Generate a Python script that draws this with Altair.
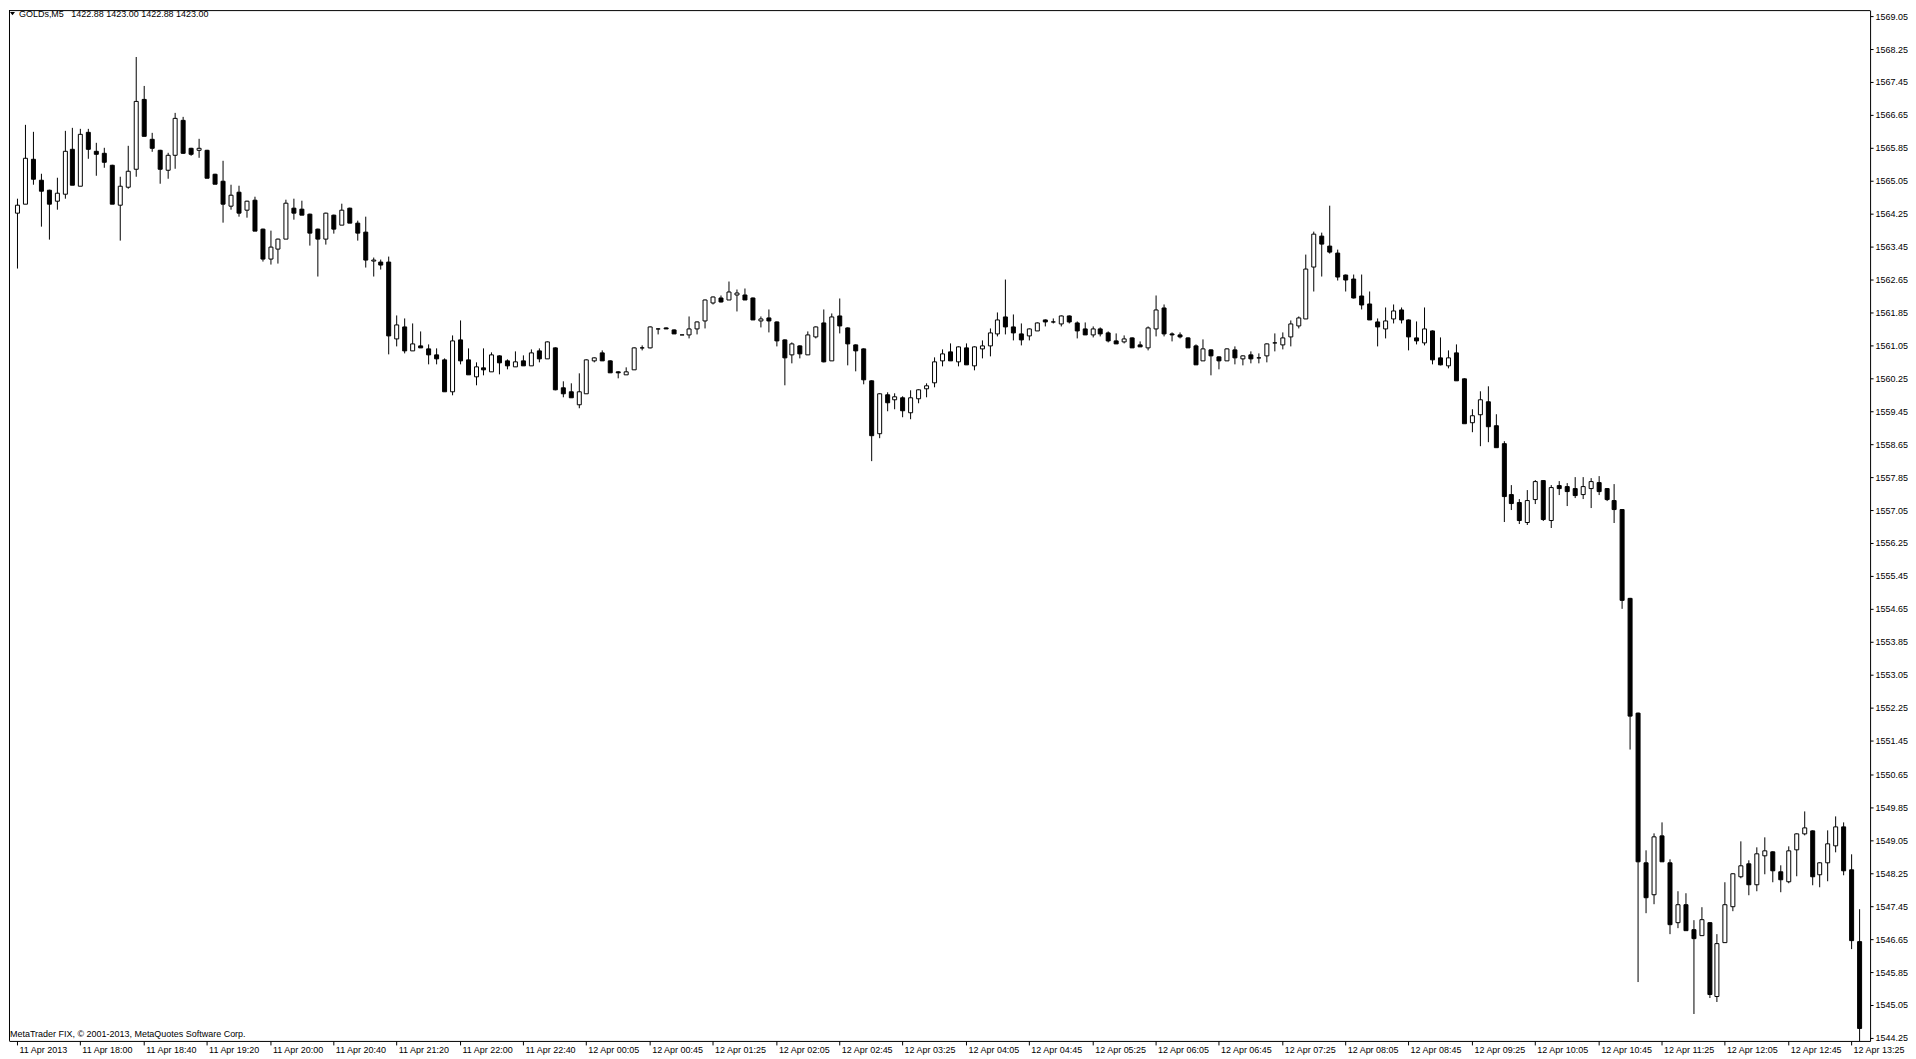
import altair as alt
import pandas as pd

# ---- M5 candles (GOLDs) ----
opens = [
    1564.28, 1564.48, 1565.58, 1565.06, 1564.82, 1564.55, 1564.74, 1565.82, 1564.92, 1566.23,
    1565.77, 1565.72, 1565.43, 1564.46, 1564.89, 1565.33, 1567.03, 1566.06, 1565.80, 1565.30,
    1565.68, 1566.52, 1565.85, 1565.79, 1565.80, 1565.21, 1565.05, 1564.43, 1564.77, 1564.34,
    1564.59, 1563.88, 1563.16, 1563.39, 1563.65, 1564.39, 1564.36, 1564.25, 1563.88, 1563.65,
    1564.22, 1563.97, 1564.39, 1564.03, 1563.81, 1563.12, 1563.08, 1563.08, 1561.23, 1561.51,
    1560.92, 1561.04, 1560.98, 1560.83, 1560.71, 1559.94, 1561.20, 1560.71, 1560.29, 1560.52,
    1560.41, 1560.80, 1560.69, 1560.54, 1560.68, 1560.56, 1560.93, 1560.74, 1561.00, 1560.03,
    1559.94, 1559.62, 1559.88, 1560.69, 1560.87, 1560.68, 1560.41, 1560.36, 1560.48, 1561.00,
    1561.01, 1561.47, 1561.48, 1561.43, 1561.32, 1561.32, 1561.46, 1561.65, 1562.10, 1562.21,
    1562.16, 1562.28, 1562.29, 1562.21, 1561.65, 1561.73, 1561.63, 1561.20, 1560.83, 1561.05,
    1560.83, 1561.27, 1561.61, 1560.68, 1561.77, 1561.49, 1561.08, 1560.98, 1560.20, 1558.91,
    1559.86, 1559.74, 1559.79, 1559.44, 1559.76, 1560.00, 1560.15, 1560.68, 1560.90, 1560.66,
    1561.00, 1560.56, 1560.97, 1561.04, 1561.35, 1561.75, 1561.50, 1561.33, 1561.29, 1561.41,
    1561.67, 1561.63, 1561.58, 1561.77, 1561.61, 1561.46, 1561.32, 1561.46, 1561.37, 1561.16,
    1561.15, 1561.24, 1561.08, 1561.01, 1561.47, 1561.96, 1561.34, 1561.32, 1561.24, 1561.04,
    1560.68, 1560.95, 1560.78, 1560.68, 1560.95, 1560.73, 1560.83, 1560.75, 1560.80, 1561.12,
    1561.07, 1561.26, 1561.53, 1561.70, 1562.96, 1563.71, 1563.46, 1563.30, 1562.76, 1562.67,
    1562.25, 1562.06, 1561.63, 1561.47, 1561.70, 1561.92, 1561.68, 1561.24, 1561.12, 1561.41,
    1560.76, 1560.56, 1560.88, 1560.24, 1559.19, 1559.39, 1559.70, 1559.11, 1558.68, 1557.44,
    1557.25, 1556.77, 1557.31, 1557.78, 1556.82, 1557.66, 1557.63, 1557.59, 1557.45, 1557.58,
    1557.73, 1557.59, 1557.30, 1557.08, 1554.93, 1552.14, 1548.51, 1547.74, 1549.16, 1548.51,
    1547.05, 1547.48, 1546.88, 1546.73, 1547.05, 1545.26, 1546.58, 1547.44, 1548.17, 1548.48,
    1547.98, 1548.68, 1548.77, 1548.28, 1548.04, 1548.83, 1549.22, 1549.29, 1548.21, 1548.51,
    1548.93, 1549.38, 1548.35, 1546.59,
]
highs = [
    1564.62, 1566.39, 1566.23, 1565.21, 1564.82, 1565.12, 1566.26, 1566.33, 1566.31, 1566.31,
    1565.97, 1565.85, 1565.43, 1565.15, 1565.89, 1568.05, 1567.35, 1566.21, 1565.80, 1565.73,
    1566.69, 1566.60, 1565.85, 1566.06, 1565.80, 1565.21, 1565.53, 1564.94, 1564.93, 1564.55,
    1564.66, 1563.88, 1563.83, 1563.63, 1564.59, 1564.62, 1564.55, 1564.25, 1563.88, 1564.27,
    1564.22, 1564.49, 1564.39, 1564.08, 1564.17, 1563.19, 1563.13, 1563.21, 1561.78, 1561.70,
    1561.58, 1561.39, 1561.08, 1560.98, 1560.74, 1561.29, 1561.66, 1560.98, 1560.64, 1560.98,
    1560.88, 1560.80, 1560.72, 1560.91, 1560.81, 1560.95, 1560.98, 1561.14, 1561.00, 1560.18,
    1560.12, 1560.37, 1560.70, 1560.75, 1560.93, 1560.68, 1560.41, 1560.51, 1561.00, 1561.06,
    1561.50, 1561.47, 1561.48, 1561.43, 1561.32, 1561.75, 1561.62, 1562.16, 1562.23, 1562.25,
    1562.60, 1562.40, 1562.43, 1562.21, 1561.75, 1561.92, 1561.63, 1561.20, 1561.12, 1561.05,
    1561.39, 1561.50, 1561.92, 1561.83, 1562.19, 1561.49, 1561.08, 1560.98, 1560.20, 1559.89,
    1559.91, 1559.88, 1559.82, 1559.96, 1559.98, 1560.13, 1560.75, 1560.95, 1561.10, 1561.02,
    1561.10, 1561.02, 1561.17, 1561.46, 1561.85, 1562.64, 1561.80, 1561.58, 1561.47, 1561.60,
    1561.67, 1561.70, 1561.78, 1561.78, 1561.62, 1561.61, 1561.51, 1561.49, 1561.39, 1561.34,
    1561.29, 1561.24, 1561.15, 1561.51, 1562.26, 1562.04, 1561.37, 1561.37, 1561.24, 1561.07,
    1561.20, 1560.95, 1560.78, 1560.97, 1561.03, 1560.80, 1560.90, 1560.85, 1561.09, 1561.33,
    1561.37, 1561.66, 1561.75, 1563.25, 1563.81, 1563.79, 1564.44, 1563.37, 1562.76, 1562.76,
    1562.76, 1562.36, 1561.70, 1561.97, 1562.04, 1561.97, 1561.68, 1561.63, 1561.97, 1561.41,
    1561.24, 1560.92, 1561.07, 1560.24, 1559.50, 1559.94, 1560.06, 1559.38, 1558.73, 1557.66,
    1557.32, 1557.54, 1557.78, 1557.78, 1557.66, 1557.76, 1557.71, 1557.85, 1557.85, 1557.83,
    1557.88, 1557.59, 1557.69, 1557.08, 1554.93, 1552.14, 1548.81, 1549.22, 1549.47, 1548.58,
    1547.81, 1547.76, 1547.11, 1547.42, 1547.05, 1546.76, 1548.02, 1548.24, 1549.01, 1548.56,
    1548.86, 1549.11, 1548.77, 1548.43, 1548.90, 1549.20, 1549.74, 1549.29, 1548.51, 1549.28,
    1549.63, 1549.47, 1548.70, 1547.37,
]
lows = [
    1562.92, 1564.48, 1564.96, 1563.92, 1563.62, 1564.35, 1564.62, 1564.96, 1564.92, 1565.59,
    1565.17, 1565.37, 1564.50, 1563.59, 1564.85, 1565.15, 1566.14, 1565.75, 1564.98, 1565.10,
    1565.34, 1565.71, 1565.65, 1565.60, 1565.13, 1564.98, 1564.04, 1564.35, 1564.17, 1564.16,
    1563.84, 1563.08, 1563.00, 1563.04, 1563.65, 1564.11, 1564.22, 1563.46, 1562.71, 1563.49,
    1563.77, 1563.97, 1564.03, 1563.59, 1562.94, 1562.71, 1562.90, 1560.84, 1561.03, 1560.86,
    1560.92, 1560.99, 1560.60, 1560.60, 1559.94, 1559.85, 1560.60, 1560.36, 1560.07, 1560.33,
    1560.41, 1560.36, 1560.48, 1560.54, 1560.56, 1560.56, 1560.65, 1560.74, 1559.97, 1559.78,
    1559.78, 1559.53, 1559.88, 1560.65, 1560.69, 1560.40, 1560.26, 1560.36, 1560.48, 1560.94,
    1560.98, 1561.32, 1561.45, 1561.33, 1561.31, 1561.23, 1561.32, 1561.47, 1562.04, 1562.09,
    1562.16, 1561.87, 1562.17, 1561.69, 1561.49, 1561.37, 1561.03, 1560.08, 1560.62, 1560.74,
    1560.83, 1561.23, 1560.64, 1560.68, 1561.35, 1560.57, 1560.42, 1560.11, 1558.24, 1558.81,
    1559.45, 1559.51, 1559.31, 1559.27, 1559.65, 1559.80, 1560.04, 1560.54, 1560.69, 1560.54,
    1560.60, 1560.45, 1560.74, 1560.78, 1561.28, 1561.32, 1561.18, 1561.06, 1561.16, 1561.41,
    1561.52, 1561.58, 1561.50, 1561.59, 1561.23, 1561.32, 1561.25, 1561.27, 1561.13, 1561.11,
    1561.11, 1561.01, 1561.03, 1560.94, 1561.28, 1561.28, 1561.15, 1561.23, 1560.99, 1560.60,
    1560.68, 1560.33, 1560.48, 1560.68, 1560.60, 1560.57, 1560.62, 1560.62, 1560.65, 1560.91,
    1560.96, 1561.03, 1561.45, 1561.70, 1562.37, 1562.73, 1563.28, 1562.62, 1562.37, 1562.20,
    1561.92, 1561.69, 1561.03, 1561.23, 1561.59, 1561.59, 1560.92, 1561.08, 1561.04, 1560.58,
    1560.56, 1560.50, 1560.20, 1559.17, 1558.94, 1558.61, 1558.70, 1558.58, 1556.76, 1557.06,
    1556.72, 1556.69, 1557.20, 1556.79, 1556.62, 1557.42, 1557.15, 1557.35, 1557.33, 1557.10,
    1557.42, 1557.27, 1556.74, 1554.67, 1551.25, 1545.60, 1547.28, 1547.49, 1548.53, 1546.76,
    1546.92, 1546.87, 1544.83, 1546.73, 1545.21, 1545.12, 1546.58, 1547.33, 1548.13, 1547.72,
    1547.81, 1548.22, 1548.02, 1547.78, 1547.99, 1548.17, 1549.16, 1547.96, 1547.90, 1548.06,
    1548.74, 1548.20, 1546.40, 1544.10,
]
closes = [
    1564.46, 1565.60, 1565.10, 1564.80, 1564.48, 1564.75, 1565.77, 1564.96, 1566.18, 1565.83,
    1565.71, 1565.50, 1564.50, 1564.93, 1565.28, 1566.98, 1566.14, 1565.85, 1565.34, 1565.67,
    1566.56, 1565.73, 1565.70, 1565.85, 1565.13, 1564.98, 1564.50, 1564.70, 1564.28, 1564.55,
    1563.84, 1563.16, 1563.44, 1563.63, 1564.51, 1564.28, 1564.22, 1563.79, 1563.63, 1564.27,
    1563.89, 1564.34, 1564.03, 1563.78, 1563.14, 1563.13, 1563.02, 1561.30, 1561.55, 1560.94,
    1561.09, 1560.99, 1560.84, 1560.74, 1559.94, 1561.17, 1560.69, 1560.36, 1560.54, 1560.48,
    1560.83, 1560.65, 1560.57, 1560.66, 1560.56, 1560.87, 1560.73, 1561.14, 1559.99, 1559.90,
    1559.78, 1559.93, 1560.70, 1560.75, 1560.69, 1560.40, 1560.40, 1560.41, 1561.00, 1561.00,
    1561.50, 1561.47, 1561.45, 1561.33, 1561.31, 1561.46, 1561.62, 1562.16, 1562.23, 1562.12,
    1562.35, 1562.33, 1562.17, 1561.69, 1561.70, 1561.66, 1561.18, 1560.77, 1561.09, 1560.86,
    1561.31, 1561.50, 1560.66, 1561.75, 1561.54, 1561.11, 1560.94, 1560.23, 1558.88, 1559.89,
    1559.68, 1559.82, 1559.48, 1559.79, 1559.98, 1560.08, 1560.66, 1560.85, 1560.69, 1561.02,
    1560.60, 1561.02, 1561.04, 1561.36, 1561.67, 1561.50, 1561.37, 1561.20, 1561.46, 1561.60,
    1561.64, 1561.63, 1561.78, 1561.62, 1561.42, 1561.32, 1561.46, 1561.35, 1561.18, 1561.11,
    1561.22, 1561.01, 1561.03, 1561.49, 1561.92, 1561.35, 1561.31, 1561.28, 1560.99, 1560.60,
    1560.97, 1560.82, 1560.69, 1560.97, 1560.77, 1560.80, 1560.74, 1560.75, 1561.09, 1561.12,
    1561.24, 1561.58, 1561.72, 1562.91, 1563.76, 1563.51, 1563.32, 1562.71, 1562.66, 1562.21,
    1562.04, 1561.69, 1561.50, 1561.65, 1561.89, 1561.69, 1561.28, 1561.16, 1561.45, 1560.70,
    1560.58, 1560.76, 1560.20, 1559.17, 1559.35, 1559.74, 1559.09, 1558.58, 1557.39, 1557.23,
    1556.81, 1557.30, 1557.76, 1556.84, 1557.61, 1557.60, 1557.52, 1557.43, 1557.63, 1557.76,
    1557.52, 1557.33, 1557.09, 1554.87, 1552.07, 1548.54, 1547.67, 1549.13, 1548.53, 1547.01,
    1547.48, 1546.87, 1546.68, 1547.12, 1545.32, 1546.54, 1547.48, 1548.24, 1548.43, 1547.98,
    1548.72, 1548.79, 1548.32, 1548.10, 1548.79, 1549.20, 1549.36, 1548.17, 1548.51, 1548.98,
    1549.38, 1548.31, 1546.62, 1544.48,
]

# ---- axis texts ----
time_labels = [
    "11 Apr 2013", "11 Apr 18:00", "11 Apr 18:40", "11 Apr 19:20", "11 Apr 20:00",
    "11 Apr 20:40", "11 Apr 21:20", "11 Apr 22:00", "11 Apr 22:40", "12 Apr 00:05",
    "12 Apr 00:45", "12 Apr 01:25", "12 Apr 02:05", "12 Apr 02:45", "12 Apr 03:25",
    "12 Apr 04:05", "12 Apr 04:45", "12 Apr 05:25", "12 Apr 06:05", "12 Apr 06:45",
    "12 Apr 07:25", "12 Apr 08:05", "12 Apr 08:45", "12 Apr 09:25", "12 Apr 10:05",
    "12 Apr 10:45", "12 Apr 11:25", "12 Apr 12:05", "12 Apr 12:45", "12 Apr 13:25",
]
time_tick_bars = list(range(0, 233, 8))  # one time label every 8 bars
price_ticks = [
    1544.25, 1545.05, 1545.85, 1546.65, 1547.45, 1548.25, 1549.05, 1549.85,
    1550.65, 1551.45, 1552.25, 1553.05, 1553.85, 1554.65, 1555.45, 1556.25,
    1557.05, 1557.85, 1558.65, 1559.45, 1560.25, 1561.05, 1561.85, 1562.65,
    1563.45, 1564.25, 1565.05, 1565.85, 1566.65, 1567.45, 1568.25, 1569.05,
]
symbol_text = ["GOLDs,M5"]
quote_text = ["1422.88 1423.00 1422.88 1423.00"]
copyright_text = ["MetaTrader FIX, \u00a9 2001-2013, MetaQuotes Software Corp."]

df = pd.DataFrame({
    "bar": list(range(len(opens))),
    "open": opens, "high": highs, "low": lows, "close": closes,
})
df["dir"] = ["up" if c >= o else "down" for o, c in zip(opens, closes)]

W, H = 1865, 1033
FONT = "Liberation Sans"

xscale = alt.Scale(domain=[-0.375, 233.75], nice=False, zero=False, round=True)
yscale = alt.Scale(domain=[1544.174, 1569.186], nice=False, zero=False, round=True)

labels_js = "[" + ",".join("'" + s + "'" for s in time_labels) + "]"
xaxis = alt.Axis(
    values=time_tick_bars, labelExpr=labels_js + "[round(datum.value / 8)]",
    orient="bottom", title=None, grid=False,
    domainColor="black", domainWidth=1, tickColor="black", tickWidth=1, tickSize=4,
    labelColor="black", labelFont=FONT, labelFontSize=9, labelAlign="left",
    labelBaseline="top", labelPadding=1, labelOffset=2,
    labelFlush=False, labelOverlap=False,
)
yaxis = alt.Axis(
    values=price_ticks, format=".2f", orient="right", title=None, grid=False,
    domainColor="black", domainWidth=1, tickColor="black", tickWidth=1, tickSize=3,
    labelColor="black", labelFont=FONT, labelFontSize=9, labelPadding=2,
    labelFlush=False, labelOverlap=False,
)

base = alt.Chart(df)

wicks = base.mark_rule(color="black", strokeWidth=1, xOffset=0.5, clip=True).encode(
    x=alt.X("bar:Q", scale=xscale, axis=xaxis),
    y=alt.Y("low:Q", scale=yscale, axis=yaxis),
    y2=alt.Y2("high:Q"),
)

bodies = base.mark_bar(
    size=4, stroke="black", strokeWidth=1, xOffset=0.5, yOffset=0.5, y2Offset=0.5,
    clip=True, opacity=1,
).encode(
    x=alt.X("bar:Q", scale=xscale, axis=xaxis),
    y=alt.Y("open:Q", scale=yscale, axis=yaxis),
    y2=alt.Y2("close:Q"),
    fill=alt.Fill("dir:N", scale=alt.Scale(domain=["up", "down"], range=["white", "black"]), legend=None),
)

one = pd.DataFrame({"k": [0]})
frame_left = alt.Chart(one).mark_rule(color="black", strokeWidth=1).encode(
    x=alt.value(0.5), y=alt.value(0), y2=alt.value(H)
)
frame_top = alt.Chart(one).mark_rule(color="black", strokeWidth=1).encode(
    x=alt.value(0), x2=alt.value(W), y=alt.value(0.5)
)

tri = alt.Chart(one).mark_point(
    shape="M-1,-0.68L1,-0.68L0,0.68Z", filled=True, color="black", size=25, opacity=1, strokeWidth=0
).encode(x=alt.value(3.5), y=alt.value(3.5))

sym = alt.Chart(pd.DataFrame({"t": symbol_text})).mark_text(
    align="left", baseline="alphabetic", font=FONT, fontSize=9, color="black"
).encode(x=alt.value(10), y=alt.value(7), text="t:N")

quote = alt.Chart(pd.DataFrame({"t": quote_text})).mark_text(
    align="left", baseline="alphabetic", font=FONT, fontSize=9, color="black"
).encode(x=alt.value(62.5), y=alt.value(7), text="t:N")

copyr = alt.Chart(pd.DataFrame({"t": copyright_text})).mark_text(
    align="left", baseline="alphabetic", font=FONT, fontSize=9, color="black"
).encode(x=alt.value(1), y=alt.value(1029), text="t:N")

chart = alt.layer(
    wicks, bodies, frame_left, frame_top, tri, sym, quote, copyr
).properties(
    width=W, height=H, padding=0, background="white"
).configure_view(stroke=None)

chart.save("out.html", embed_options={"renderer": "svg", "actions": False})
